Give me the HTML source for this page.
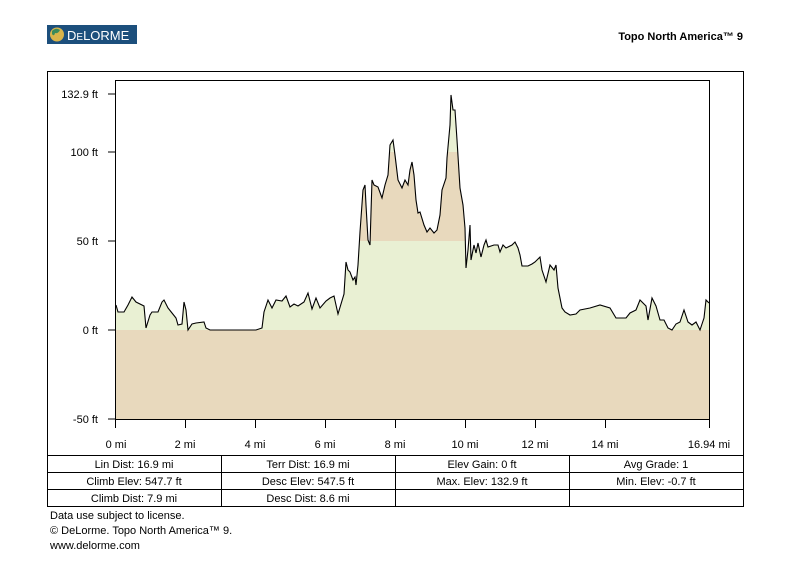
<!DOCTYPE html>
<html><head><meta charset="utf-8"><style>
html,body{margin:0;padding:0;background:#fff;}
body{width:791px;height:578px;position:relative;font-family:"Liberation Sans",Arial,sans-serif;}
svg text{font-family:"Liberation Sans",Arial,sans-serif;}
</style></head><body>
<svg width="791" height="578" viewBox="0 0 791 578" xmlns="http://www.w3.org/2000/svg">
<rect x="47" y="25" width="90" height="19" fill="#1c4f7c"/>
<circle cx="57" cy="34.5" r="7" fill="#d9b44a"/>
<path d="M52 31 q4 -4 8 -1 q-2 4 -5 3 q-1 4 -3 1z" fill="#3a8a5a"/>
<text x="67" y="40" font-size="13" fill="#fff" font-family="Liberation Serif, serif">D<tspan font-size="10">E</tspan>LORME</text>
<text x="743" y="40" font-size="11" font-weight="bold" text-anchor="end" fill="#000">Topo North America™ 9</text>
<rect x="47.5" y="71.5" width="696" height="435" fill="none" stroke="#000"/>
<defs><clipPath id="c"><path id="ap" d=""/></clipPath></defs>
<rect x="116" y="330" width="593" height="89" fill="#e8d9bd"/>
<g clip-path="url(#c)">
<rect x="116" y="241" width="593" height="89" fill="#e9f0d3"/>
<rect x="116" y="152" width="593" height="89" fill="#e8d9bd"/>
<rect x="116" y="60" width="593" height="92" fill="#e9f0d3"/>
</g>
<polyline id="ln" fill="none" stroke="#000" stroke-width="1.1" points=""/>
<rect x="115.5" y="80.5" width="594" height="339" fill="none" stroke="#000"/>
<g stroke="#000">
<line x1="108" y1="94" x2="116" y2="94"/><line x1="108" y1="152" x2="116" y2="152"/><line x1="108" y1="241" x2="116" y2="241"/><line x1="108" y1="330" x2="116" y2="330"/><line x1="108" y1="419" x2="116" y2="419"/>
<line x1="115.5" y1="419" x2="115.5" y2="428"/><line x1="185.5" y1="419" x2="185.5" y2="428"/><line x1="255.5" y1="419" x2="255.5" y2="428"/><line x1="325.5" y1="419" x2="325.5" y2="428"/><line x1="395.5" y1="419" x2="395.5" y2="428"/><line x1="465.5" y1="419" x2="465.5" y2="428"/><line x1="535.5" y1="419" x2="535.5" y2="428"/><line x1="605.5" y1="419" x2="605.5" y2="428"/><line x1="709.5" y1="419" x2="709.5" y2="428"/>
</g>
<g font-size="11" fill="#000" text-anchor="end">
<text x="98" y="98">132.9 ft</text><text x="98" y="156">100 ft</text><text x="98" y="245">50 ft</text><text x="98" y="334">0 ft</text><text x="98" y="423">-50 ft</text>
</g>
<g font-size="11" fill="#000" text-anchor="middle">
<text x="116" y="448">0 mi</text><text x="185" y="448">2 mi</text><text x="255" y="448">4 mi</text><text x="325" y="448">6 mi</text><text x="395" y="448">8 mi</text><text x="465" y="448">10 mi</text><text x="535" y="448">12 mi</text><text x="605" y="448">14 mi</text><text x="709" y="448">16.94 mi</text>
</g>
<g stroke="#000">
<line x1="47" y1="455.5" x2="743" y2="455.5"/><line x1="47" y1="472.5" x2="743" y2="472.5"/><line x1="47" y1="489.5" x2="743" y2="489.5"/>
<line x1="221.5" y1="455" x2="221.5" y2="506"/><line x1="395.5" y1="455" x2="395.5" y2="506"/><line x1="569.5" y1="455" x2="569.5" y2="506"/>
</g>
<g font-size="11" fill="#000" text-anchor="middle">
<text x="134" y="468">Lin Dist:  16.9 mi</text><text x="308" y="468">Terr Dist:  16.9 mi</text><text x="482" y="468">Elev Gain:  0 ft</text><text x="656" y="468">Avg Grade:  1</text>
<text x="134" y="485">Climb Elev:  547.7 ft</text><text x="308" y="485">Desc Elev:  547.5 ft</text><text x="482" y="485">Max. Elev:  132.9 ft</text><text x="656" y="485">Min. Elev:  -0.7 ft</text>
<text x="134" y="502">Climb Dist:  7.9 mi</text><text x="308" y="502">Desc Dist:  8.6 mi</text>
</g>
<g font-size="11" fill="#000">
<text x="50" y="519">Data use subject to license.</text>
<text x="50" y="534">© DeLorme. Topo North America™ 9.</text>
<text x="50" y="549">www.delorme.com</text>
</g>
</svg>
<script>
var p="116,305 118,312 124,312 128,305 132,297 136,302 144,306 146,328 150,315 152,312 158,312 162,302 164,300 168,308 172,313 176,318 178,325 182,324 184,302 186,310 188,330 192,324 196,323 204,322 206,328 210,330 256,330 262,328 264,312 268,300 272,308 276,300 282,301 286,296 290,307 294,304 298,306 304,302 308,293 312,309 316,298 320,308 326,301 330,298 334,296 338,314 344,294 346,262 348,270 350,272 353,280 355,277 356,285 358,265 360,232 363,190 365,185 366,205 368,240 370,245 372,180 374,185 378,187 382,198 385,185 388,175 390,145 393,140 395,155 398,180 402,188 405,180 408,185 410,170 412,162 414,175 416,200 418,213 420,212 424,225 427,232 430,228 434,233 437,230 440,215 442,190 446,178 447,158 450,125 451,95 453,110 455,110 457,140 460,188 463,205 465,228 466,268 468,250 470,225 471,260 472,255 474,245 476,253 478,243 481,257 484,245 486,240 488,247 494,245 498,245 500,252 503,245 506,248 512,245 515,242 518,248 520,255 522,266 528,266 532,264 535,262 540,257 542,270 546,282 550,265 554,270 556,265 558,288 562,308 565,312 570,315 576,314 580,310 590,308 600,305 610,308 616,318 626,318 630,313 636,310 640,300 646,306 648,320 652,298 656,306 660,320 664,320 668,328 672,330 676,324 680,322 684,310 688,322 692,325 696,322 700,330 704,318 706,300 709,303";
document.getElementById('ln').setAttribute('points',p);
document.getElementById('ap').setAttribute('d','M116,330 L'+p.split(' ').join(' L')+' L709,330 Z');
</script>
</body></html>
